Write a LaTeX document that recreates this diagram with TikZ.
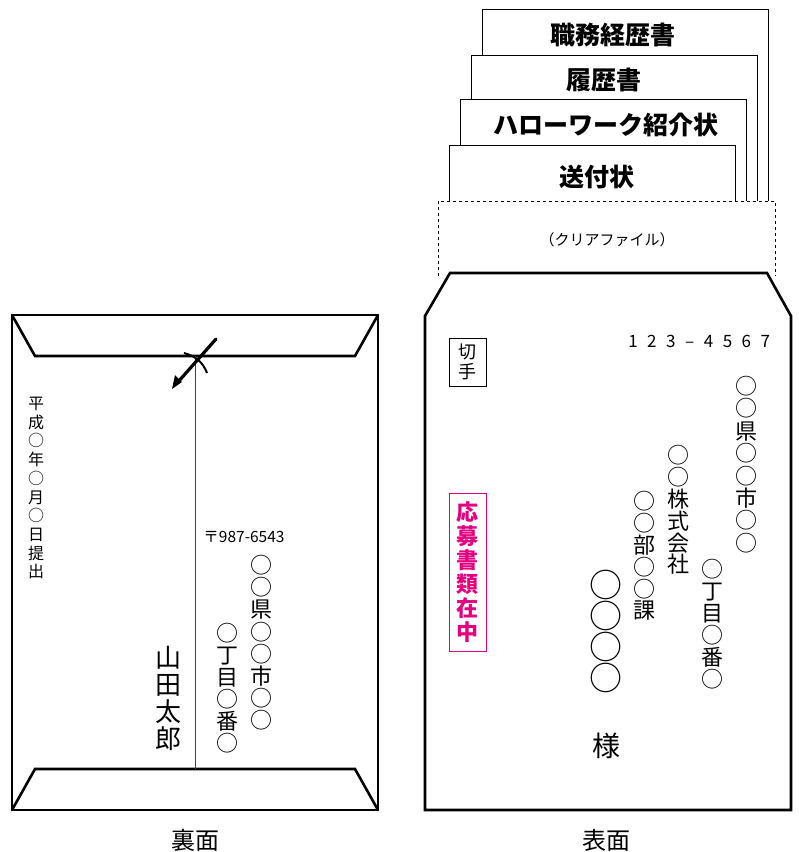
\documentclass[tikz,border=0pt]{standalone}
\usepackage{fontspec}
\setmainfont{Noto Sans CJK JP}
\usetikzlibrary{calc}
\definecolor{inkpink}{RGB}{228,0,127}

\begin{document}
\begin{tikzpicture}[x=1pt,y=-1pt,
  vcol/.style={align=center,inner sep=0pt,anchor=north},
  envline/.style={black,line width=2.6pt,line join=miter},
  docline/.style={black,line width=0.9pt}]

\useasboundingbox (0,0) rectangle (799,852);

% back side
\draw[envline] (12,315) rectangle (378,810);
\draw[envline] (12,315) -- (35,356) -- (355,356) -- (378,315);
\draw[envline] (12,810) -- (35,769) -- (355,769) -- (378,810);
\draw[black!75,line width=0.8pt] (195,356) -- (195,769);

\draw[line width=3.2pt,line cap=round] (178,382) -- (216,339);
\fill (172,389) -- (175,375) -- (182,382) -- cycle;
\draw[line width=2pt] (184,353) .. controls (195,356) and (203,362) .. (207,373);

\node[vcol,font=\fontsize{16}{18.7}\selectfont] (date) at (36,397) {平\\成\\○\\年\\○\\月\\○\\日\\提\\出};
\node[font=\fontsize{15.5}{15.5}\selectfont] (zipback) at (244,537) {〒987-6543};
\node[vcol,font=\fontsize{22}{22.2}\selectfont] (addrback) at (261,555) {○\\○\\県\\○\\○\\市\\○\\○};
\node[vcol,font=\fontsize{22}{22}\selectfont] (chomeback) at (227,623) {○\\丁\\目\\○\\番\\○};
\node[vcol,font=\fontsize{26}{27}\selectfont] (sender) at (168,646) {山\\田\\太\\郎};
\node[font=\fontsize{24}{24}\selectfont] (back) at (195,840) {裏面};

% contents
\foreach \l/\t/\tx/\ty/\nm/\txt in {482/9/613/35/career/職務経歴書,
  471/55/604/80/resume/履歴書, 460/99/606/125/hellowork/ハローワーク紹介状,
  449/145/597/177/cover/送付状}
{
  \fill[white] (\l,\t) rectangle (\l+286,201);
  \draw[docline] (\l,201) |- (\l+286,\t) -- (\l+286,201);
  \node[font=\fontsize{25}{25}\selectfont\bfseries] (\nm) at (\tx,\ty) {\txt};
}
\draw[docline,dashed,line width=0.8pt] (438,276) -- (438,201) -- (775,201) -- (775,276);
\node[font=\fontsize{15}{15}\selectfont] (file) at (607,240) {（クリアファイル）};

% front side
\draw[envline] (425,316) -- (450,273) -- (767,273) -- (791,316) -- (791,810) -- (425,810) -- cycle;

\node[draw,line width=0.8pt,minimum width=37,minimum height=48,inner sep=0pt,align=center,
  font=\fontsize{18}{19.5}\selectfont] (stamp) at (467.5,362) {切\\手};
\node[draw=inkpink,text=inkpink,line width=1pt,minimum width=37,minimum height=158,inner sep=0pt,
  align=center,font=\fontsize{22}{24}\selectfont\bfseries] (inner) at (467.5,572) {応\\募\\書\\類\\在\\中};

\foreach \d [count=\i] in {1,2,3,–,4,5,6,7}
  \node[font=\fontsize{17}{17}\selectfont,anchor=base,inner sep=0pt] (pc\i) at (614.1+18.9*\i,347.5) {\d};

\node[vcol,font=\fontsize{22}{22.4}\selectfont] (pref) at (746,376) {○\\○\\県\\○\\○\\市\\○\\○};
\node[vcol,font=\fontsize{22}{21.9}\selectfont] (company) at (678,445) {○\\○\\株\\式\\会\\社};
\node[vcol,font=\fontsize{22}{21.9}\selectfont] (dept) at (644,491) {○\\○\\部\\○\\○\\課};
\node[vcol,font=\fontsize{22}{22}\selectfont] (chome) at (712,559) {○\\丁\\目\\○\\番\\○};
\node[vcol,font=\fontsize{33}{31}\selectfont] (name) at (606,570) {○\\○\\○\\○};
\node[font=\fontsize{28}{28}\selectfont] (sama) at (606,746) {様};
\node[font=\fontsize{24}{24}\selectfont] (front) at (606,840) {表面};

\end{tikzpicture}
\end{document}
